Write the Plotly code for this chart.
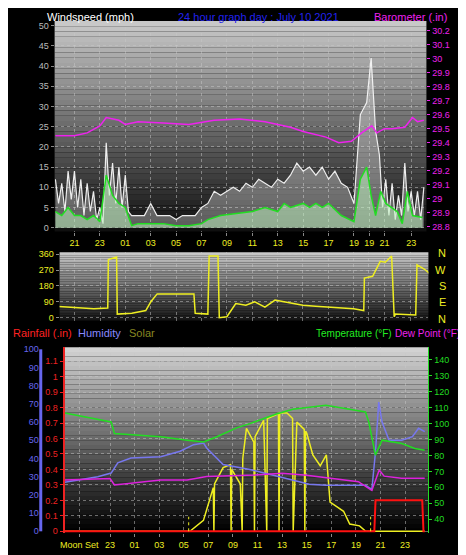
import plotly.graph_objects as go

# ---------------- data (t = hours since 20:00 on top panel scale) ----------------
top_tick_vals = [1, 3, 5, 7, 9, 11, 13, 15, 17, 19, 21, 23, 24.2, 25.4, 27.5]
top_tick_text = ["21", "23", "01", "03", "05", "07", "09", "11", "13", "15", "17", "19", "19", "21", "23"]

gust_t = [-0.5, -0.25, 0, 0.25, 0.5, 0.75, 1, 1.25, 1.5, 1.75, 2, 2.25, 2.5, 2.75, 3, 3.25, 3.5, 3.75, 4, 4.25,
          4.5, 4.75, 5, 5.25, 5.5, 6, 6.5, 7, 7.5, 8, 8.5, 9, 9.5, 10,
          10.5, 11, 11.5, 12, 12.5, 13, 13.5, 14, 14.5, 15, 15.5, 16, 16.5, 17, 17.5, 18, 18.5, 19,
          19.5, 20, 20.5, 21, 21.5, 22, 22.5, 23, 23.5, 24, 24.35, 24.7, 25, 25.25, 25.5, 25.75, 26, 26.25,
          26.5, 26.75, 27, 27.25, 27.5, 27.75, 28, 28.25, 28.5]
gust = [12, 6, 11, 4, 14, 7, 14, 5, 12, 3, 11, 4, 9, 2, 5, 1, 21, 8, 16, 6,
        15, 5, 13, 4, 3, 3, 3, 6, 3, 3, 3, 2, 3, 3,
        3, 5, 6, 9, 8, 9, 10, 9, 11, 10, 12, 11, 10, 12, 11, 13, 16, 14,
        15, 13, 15, 12, 14, 11, 10, 6, 28, 31, 42, 24, 18, 5, 12, 3, 11, 2,
        8, 3, 16, 4, 9, 3, 9, 2, 10]

avg_t = [-0.5, 0, 0.5, 1, 1.5, 2, 2.5, 3, 3.5, 4, 4.5, 5, 5.5, 6, 7, 8, 9, 10, 11, 11.5, 12.5, 14,
         15, 16, 17, 17.5, 18, 19, 19.5, 20, 20.5, 21, 22, 23, 23.5, 24, 24.35, 24.7, 25.1, 25.5,
         26, 26.4, 26.8, 27.2, 27.6, 28.4]
avg = [4, 3, 5, 3, 3, 2, 3, 1.5, 13, 8, 6, 5, 0.5, 1, 1, 1, 0.5, 0.5, 1, 2, 3, 3.5,
       4, 5, 4, 6, 5, 6, 5, 6, 5, 6, 3, 1.5, 12, 15, 8, 3, 9, 6,
       5, 4, 1, 9, 3, 2.5]

baro_t = [-0.5, 1, 2, 3, 3.5, 4.5, 5, 6, 8, 10, 12, 14, 16, 18, 19, 20, 20.8, 21.8, 22.8, 23.6, 24.4,
          24.8, 25.4, 26, 27, 27.6, 28, 28.5]
baro = [29.45, 29.45, 29.47, 29.52, 29.58, 29.56, 29.53, 29.55, 29.54, 29.53, 29.56, 29.57, 29.55,
        29.51, 29.48, 29.46, 29.44, 29.40, 29.41, 29.47, 29.52, 29.47, 29.50, 29.50, 29.51, 29.58,
        29.55, 29.56]

dir_t = [-0.5, 0.5, 1.5, 2.5, 3.6, 3.65, 4.3, 4.35, 5.5, 6.6, 7.0, 7.5, 10.4, 10.5, 11.5, 11.6, 12.3,
         12.4, 13.0, 13.7, 14.5, 15.2, 16, 16.8, 17.5, 18.2, 19, 20, 21, 22, 23, 23.8, 23.85, 24.5,
         25.1, 25.5, 26.0, 26.2, 26.3, 27.9, 28.0, 28.6, 29.0]
wind_dir = [65, 60, 55, 50, 55, 330, 345, 20, 25, 40, 90, 135, 135, 25, 20, 350, 350,
            0, 5, 80, 70, 90, 60, 100, 90, 80, 70, 65, 60, 55, 50, 40, 225, 235,
            320, 315, 350, 5, 20, 15, 300, 275, 250]

bot_tick_vals = [0.5, 3, 5, 7, 9, 11, 13, 15, 17, 19, 21, 23, 25, 27]
bot_tick_text = ["Moon Set", "23", "01", "03", "05", "07", "09", "11", "13", "15", "17", "19", "21", "23"]

temp_t = [-0.68, 3.09, 3.36, 7.12, 9.27, 10.61, 11.69, 13.3, 14.38, 16.53, 17.87, 20.56, 23.78, 24.05,
          24.59, 25.13, 26.74, 27.8, 28.6]
temp = [106.7, 101, 93.8, 91.7, 89.6, 88.5, 91.7, 97.3, 100, 106, 109, 111.5, 107.3, 101,
        80.2, 89.6, 87.5, 84.4, 83.3]

hum_t = [-0.68, 2.0, 3.09, 3.63, 4.7, 7.12, 8.7, 9.8, 10.61, 10.86, 12.2, 14.38, 16.53, 19.2, 20.56,
         23.78, 24.3, 24.6, 24.86, 25.13, 25.7, 26.74, 27.6, 28.1, 28.6]
hum = [27, 30, 32, 37.6, 40.3, 41, 44, 47.6, 48.5, 45.8, 36.7, 34, 30.4, 25.9, 25.3,
       25.3, 23, 44, 71, 60, 50, 50, 52, 56.6, 54.8]

dew_t = [-0.68, 3.0, 3.36, 7.12, 9.27, 10.86, 14.8, 17.0, 19.0, 23.2, 24.3, 24.9, 25.3, 26.7, 28.6]
dew = [64.6, 65.5, 61.5, 64.6, 64.6, 66.7, 67.7, 68.8, 67.5, 63.5, 58, 70.8, 67, 65.6, 65.6]

rain_t = [-0.68, 24.5, 24.6, 28.4, 28.5, 28.6]
rain = [0, 0, 0.2, 0.2, 0, 0]

solar_t = [-0.68, 9.5, 10.6, 11.4, 11.45, 11.5, 12.2, 12.8, 12.85, 12.9, 13.6, 13.75, 13.8, 14.1,
           14.7, 14.75, 14.8, 15.5, 15.75, 15.8, 16.5, 16.7, 16.75, 16.8, 17.4, 17.85, 17.9, 18.2,
           18.8, 18.85, 18.9, 19.0, 19.5, 20.1, 20.6, 20.9, 22.0, 22.5, 23.3, 23.8, 28.6]
solar = [0, 0, 6, 24, 0, 26, 35, 36.7, 0, 34, 26, 0, 40, 56.6, 49, 0, 52, 61, 0, 62, 64, 65, 0, 65,
         65, 62, 0, 60, 56, 0, 55, 54, 42, 36, 42, 16, 11, 4, 3, 0, 0]

# ---------------- figure ----------------
W, H = 466, 555
FONT = "Liberation Sans"
def dx(px): return px / W
def dy(py): return 1 - py / H

fig = go.Figure()

fig.add_trace(go.Scatter(x=gust_t, y=gust, mode="lines", line=dict(color="rgba(245,245,245,0.95)", width=1.2),
                         fill="tozeroy", fillcolor="rgba(235,235,235,0.35)", xaxis="x", yaxis="y", showlegend=False))
fig.add_trace(go.Scatter(x=avg_t, y=avg, mode="lines", line=dict(color="#22dd22", width=1.5),
                         fill="tozeroy", fillcolor="rgba(190,240,190,0.55)", xaxis="x", yaxis="y", showlegend=False))
fig.add_trace(go.Scatter(x=baro_t, y=baro, mode="lines", line=dict(color="#ee22ee", width=1.5),
                         xaxis="x", yaxis="y2", showlegend=False))
fig.add_trace(go.Scatter(x=dir_t, y=wind_dir, mode="lines", line=dict(color="#eeee22", width=1.5),
                         xaxis="x2", yaxis="y3", showlegend=False))
fig.add_trace(go.Scatter(x=solar_t, y=solar, mode="lines", line=dict(color="#eeee22", width=1.5),
                         xaxis="x3", yaxis="y4", showlegend=False))
fig.add_trace(go.Scatter(x=hum_t, y=hum, mode="lines", line=dict(color="#7777ee", width=1.5),
                         xaxis="x3", yaxis="y4", showlegend=False))
fig.add_trace(go.Scatter(x=temp_t, y=temp, mode="lines", line=dict(color="#22dd22", width=1.5),
                         xaxis="x3", yaxis="y6", showlegend=False))
fig.add_trace(go.Scatter(x=dew_t, y=dew, mode="lines", line=dict(color="#dd22dd", width=1.5),
                         xaxis="x3", yaxis="y6", showlegend=False))
fig.add_trace(go.Scatter(x=rain_t, y=rain, mode="lines", line=dict(color="#ff1111", width=2),
                         xaxis="x3", yaxis="y5", showlegend=False))

shapes = []
def gradient(x0, x1, y0, y1, top, bottom, n=40):
    for i in range(n):
        f = i / (n - 1)
        g = int(top + (bottom - top) * f)
        ya = y0 + (y1 - y0) * i / n
        yb = y0 + (y1 - y0) * (i + 1) / n
        shapes.append(dict(type="rect", xref="paper", yref="paper", x0=dx(x0), x1=dx(x1),
                           y0=dy(ya), y1=dy(yb), fillcolor=f"rgb({g},{g},{g})", line_width=0, layer="below"))
gradient(43, 418, 10, 223, 200, 15)
gradient(48, 420, 244, 313, 200, 20)
gradient(53, 420, 340, 528, 210, 0)
for xv in [9.4, 24.2]:
    shapes.append(dict(type="line", xref="x3", yref="y4", x0=xv, x1=xv, y0=0, y1=8,
                       line=dict(color="#eeee22", width=1, dash="dot")))
shapes.append(dict(type="line", xref="paper", yref="paper", x0=dx(29), x1=dx(29), y0=dy(526), y1=dy(342),
                   line=dict(color="#6666ee", width=3)))

grid = dict(showgrid=True, gridcolor="rgba(200,200,200,0.5)", griddash="dot", gridwidth=1)
tf = dict(family=FONT, size=9)

fig.update_layout(
    width=W, height=H, margin=dict(l=0, r=0, t=0, b=0),
    paper_bgcolor="black", plot_bgcolor="rgba(0,0,0,0)", shapes=shapes,
    font=dict(family=FONT),
    xaxis=dict(domain=[dx(43), dx(418)], range=[-0.56, 28.7], tickvals=top_tick_vals, ticktext=top_tick_text,
               tickfont=dict(color="#eeee22", **tf), anchor="y", ticks="outside", ticklen=3,
               tickcolor="#888", zeroline=False, **grid),
    yaxis=dict(domain=[dy(223), dy(10)], range=[-0.97, 51.2], dtick=5, tickfont=dict(color="#bbbbbb", **tf),
               ticks="outside", ticklen=3, tickcolor="#888", zeroline=False, anchor="x", **grid),
    yaxis2=dict(overlaying="y", side="right", range=[28.765, 30.27], dtick=0.1, anchor="x",
                tickfont=dict(color="#ee22ee", **tf), showgrid=False, ticks="outside", ticklen=3,
                tickcolor="#ee22ee", tickformat="~g", zeroline=False),
    xaxis2=dict(domain=[dx(48), dx(420)], range=[-0.2, 28.9], anchor="y3", showticklabels=False,
                tickvals=top_tick_vals, zeroline=False, **grid),
    yaxis3=dict(domain=[dy(313), dy(244)], range=[-17, 371], tickvals=[0, 90, 180, 270, 360], anchor="x2",
                tickfont=dict(color="#eeee22", **tf), zeroline=False, ticks="outside", ticklen=3,
                tickcolor="#888", **grid),
    xaxis3=dict(domain=[dx(53), dx(420)], range=[-0.7, 28.9], tickvals=bot_tick_vals, ticktext=bot_tick_text,
                tickfont=dict(color="#eeee22", **tf), anchor="y5", zeroline=False, ticks="outside",
                ticklen=3, tickcolor="#888", **grid),
    yaxis4=dict(domain=[dy(528), dy(340)], range=[-1.09, 101.1], dtick=10, anchor="free", position=dx(27),
                tickfont=dict(color="#6666ee", **tf), zeroline=False, showgrid=False, showline=False),
    yaxis5=dict(overlaying="y4", range=[-0.013, 1.19], dtick=0.1, anchor="x3", tickformat="~g",
                tickfont=dict(color="#ee2222", **tf), zeroline=False, showline=True, linecolor="#ee2222",
                linewidth=2, ticks="outside", ticklen=3, tickcolor="#ee2222", **grid),
    yaxis6=dict(overlaying="y4", side="right", range=[31.1, 147.9], tickvals=[40, 50, 60, 70, 80, 90, 100, 110, 120, 130, 140],
                anchor="x3", tickfont=dict(color="#22dd22", **tf), showgrid=False, zeroline=False,
                showline=True, linecolor="#22dd22", ticks="outside", ticklen=3, tickcolor="#22dd22"),
)

ann = [
    ("Windspeed (mph)", 34, 6, "white", "left", 11),
    ("24 hour graph day : July 10 2021", 249, 6, "#2222ee", "center", 11),
    ("Barometer (.in)", 440, 6, "#ee22ee", "right", 11),
    ("Rainfall (.in)", 0, 326, "#ff2222", "left", 11),
    ("Humidity", 66, 326, "#8888ff", "left", 11),
    ("Solar", 117, 326, "#888822", "left", 11),
    ("Temperature (°F)", 384, 326, "#22ee22", "right", 10),
    ("Dew Point (°F)", 385, 326, "#ee22ee", "left", 10),
]
annotations = []
for text, x, y, c, al, fs in ann:
    annotations.append(dict(text=text, x=dx(x), y=dy(y), xref="paper", yref="paper", showarrow=False,
                            xanchor=al, yanchor="middle", borderpad=0,
                            font=dict(family=FONT, size=fs, color=c)))
for i, lab in enumerate(["N", "W", "S", "E", "N"]):
    annotations.append(dict(text=lab, x=dx(440), y=dy(245 + i * 16.5), xref="paper", yref="paper",
                            showarrow=False, font=dict(family=FONT, size=11, color="#eeee22")))
fig.update_layout(annotations=annotations)

fig.write_html("out.html")
